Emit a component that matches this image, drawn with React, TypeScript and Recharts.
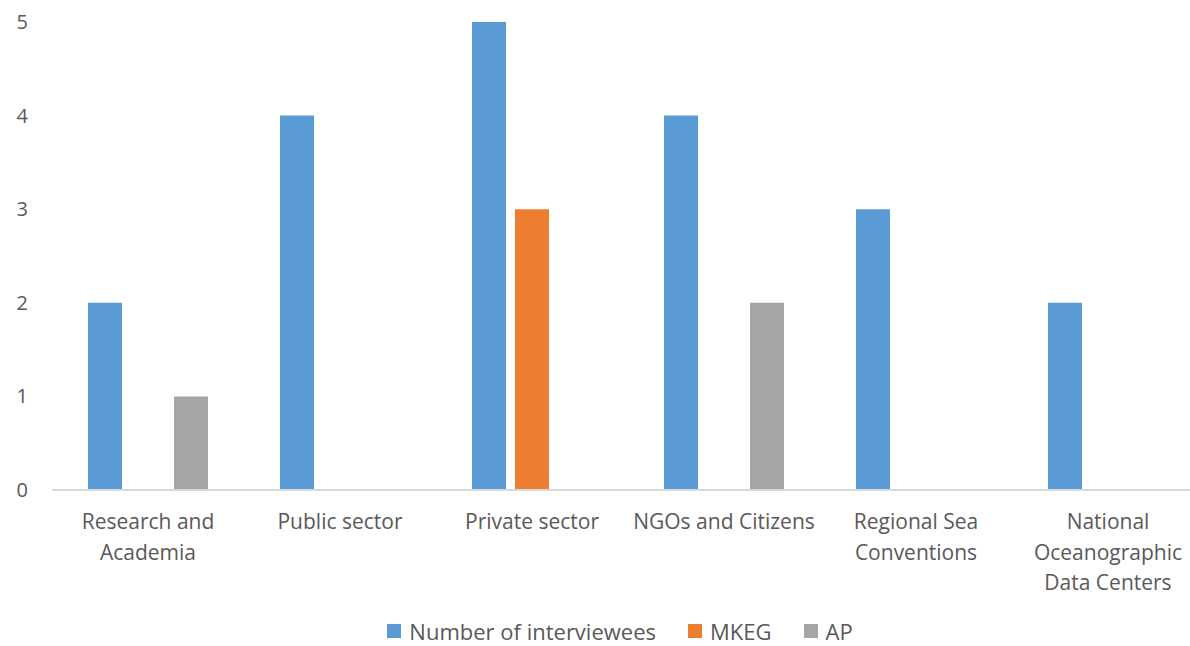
import React from 'react';
import { BarChart, Bar, XAxis, YAxis, Legend } from 'recharts';

const categories = [
  'Research and Academia',
  'Public sector',
  'Private sector',
  'NGOs and Citizens',
  'Regional Sea Conventions',
  'National Oceanographic Data Centers',
];
const labelLines = [
  ['Research and', 'Academia'],
  ['Public sector'],
  ['Private sector'],
  ['NGOs and Citizens'],
  ['Regional Sea', 'Conventions'],
  ['National', 'Oceanographic', 'Data Centers'],
];
const interviewees = [2, 4, 5, 4, 3, 2];
const mkeg = [0, 0, 3, 0, 0, 0];
const ap = [1, 0, 0, 2, 0, 0];
const yTicks = [0, 1, 2, 3, 4, 5];

const series = [
  { key: 'interviewees', name: 'Number of interviewees', color: '#5B9BD5' },
  { key: 'mkeg', name: 'MKEG', color: '#ED7D31' },
  { key: 'ap', name: 'AP', color: '#A5A5A5' },
];

const data = categories.map((c, i) => ({
  category: c,
  interviewees: interviewees[i],
  mkeg: mkeg[i],
  ap: ap[i],
}));

const FONT = '"Open Sans", Lato, sans-serif';
const TEXT = '#595959';

function XTick(props: any) {
  const { x, y, index } = props;
  const lines = labelLines[index] || [props.payload.value];
  return (
    <text x={x} y={y + 31} textAnchor="middle" fill={TEXT} fontSize={21} fontFamily={FONT}>
      {lines.map((l: string, i: number) => (
        <tspan key={i} x={x} dy={i === 0 ? 0 : 30.5}>
          {l}
        </tspan>
      ))}
    </text>
  );
}

function YTick(props: any) {
  const { y, payload } = props;
  return (
    <text x={28} y={y + 7} textAnchor="end" fill={TEXT} fontSize={20} fontFamily={FONT}>
      {payload.value}
    </text>
  );
}

function LegendContent() {
  return (
    <div
      style={{
        display: 'flex',
        justifyContent: 'center',
        alignItems: 'center',
        gap: 32,
        fontFamily: FONT,
        fontSize: 22,
        lineHeight: '26px',
        color: TEXT,
      }}
    >
      {series.map((s) => (
        <div key={s.key} style={{ display: 'flex', alignItems: 'center', gap: 8 }}>
          <span style={{ width: 14, height: 14, background: s.color, display: 'inline-block' }} />
          <span>{s.name}</span>
        </div>
      ))}
    </div>
  );
}

export default function App() {
  return (
    <div
      style={{
        position: 'absolute',
        left: 0,
        top: 0,
        width: 1190,
        height: 646,
        overflow: 'hidden',
        background: '#fff',
      }}
    >
      <BarChart
        width={1204}
        height={646}
        data={data}
        margin={{ top: 22, right: 0, left: 0, bottom: 0 }}
        barSize={34}
        barGap={9}
      >
        <XAxis
          dataKey="category"
          interval={0}
          height={130}
          tickLine={false}
          axisLine={{ stroke: '#D9D9D9', strokeWidth: 2 }}
          tick={<XTick />}
        />
        <YAxis
          width={52}
          domain={[0, 5]}
          ticks={yTicks}
          axisLine={false}
          tickLine={false}
          tick={<YTick />}
        />
        <Legend
          verticalAlign="bottom"
          wrapperStyle={{ left: 50, width: 1140, top: 618, bottom: 'auto', height: 26 }}
          content={<LegendContent />}
        />
        {series.map((s) => (
          <Bar key={s.key} dataKey={s.key} name={s.name} fill={s.color} isAnimationActive={false} />
        ))}
      </BarChart>
    </div>
  );
}
